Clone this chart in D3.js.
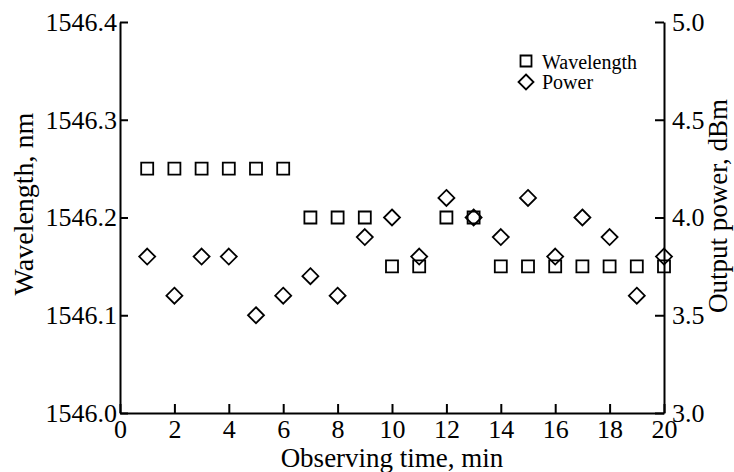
<!DOCTYPE html>
<html>
<head>
<meta charset="utf-8">
<script src="https://cdn.jsdelivr.net/npm/d3@7"></script>
<style>
  body { margin: 0; background: #fff; }
  svg text { font-family: "Liberation Serif", "Times New Roman", serif; fill: #000; }
  .axis path, .axis line { stroke: #000; stroke-width: 2; }
</style>
</head>
<body>
<svg id="chart" width="734" height="472"></svg>
<script>
// data
const minutes = [1, 2, 3, 4, 5, 6, 7, 8, 9, 10, 11, 12, 13, 14, 15, 16, 17, 18, 19, 20];
const wavelength = [1546.25, 1546.25, 1546.25, 1546.25, 1546.25, 1546.25, 1546.20, 1546.20, 1546.20, 1546.15,
                    1546.15, 1546.20, 1546.20, 1546.15, 1546.15, 1546.15, 1546.15, 1546.15, 1546.15, 1546.15];
const power = [3.8, 3.6, 3.8, 3.8, 3.5, 3.6, 3.7, 3.6, 3.9, 4.0,
               3.8, 4.1, 4.0, 3.9, 4.1, 3.8, 4.0, 3.9, 3.6, 3.8];
const xTicks = [0, 2, 4, 6, 8, 10, 12, 14, 16, 18, 20];
const leftTicks = [1546.0, 1546.1, 1546.2, 1546.3, 1546.4];
const rightTicks = [3.0, 3.5, 4.0, 4.5, 5.0];
const legendLabels = ["Wavelength", "Power"];

const svg = d3.select("#chart");
const plot = { left: 120, right: 664, top: 22, bottom: 413 };

const x = d3.scaleLinear().domain([0, 20]).range([plot.left, plot.right]);
const yL = d3.scaleLinear().domain([1546.0, 1546.4]).range([plot.bottom, plot.top]);
const yR = d3.scaleLinear().domain([3.0, 5.0]).range([plot.bottom, plot.top]);

// axes, ticks pointing inward
const xAxisG = svg.append("g").attr("class", "axis")
  .attr("transform", `translate(0,${plot.bottom})`)
  .call(d3.axisBottom(x).tickValues(xTicks).tickSize(-9).tickSizeOuter(0).tickFormat(d3.format("d")));
xAxisG.selectAll("text").attr("y", 0).attr("dy", "25px").style("font-size", "26px");

const yLG = svg.append("g").attr("class", "axis")
  .attr("transform", `translate(${plot.left},0)`)
  .call(d3.axisLeft(yL).tickValues(leftTicks).tickSize(-8).tickSizeOuter(0).tickPadding(3).tickFormat(d3.format(".1f")));
yLG.selectAll("text").style("font-size", "26px");

const yRG = svg.append("g").attr("class", "axis")
  .attr("transform", `translate(${plot.right},0)`)
  .call(d3.axisRight(yR).tickValues(rightTicks).tickSize(-9).tickSizeOuter(0).tickPadding(8).tickFormat(d3.format(".1f")));
yRG.selectAll("text").style("font-size", "26px");

svg.selectAll(".domain").attr("stroke-width", 2);

// axis titles
svg.append("text")
  .attr("x", (plot.left + plot.right) / 2).attr("y", 467)
  .attr("text-anchor", "middle").style("font-size", "27px")
  .text("Observing time, min");

svg.append("text")
  .attr("transform", "translate(33,204) rotate(-90)")
  .attr("text-anchor", "middle").style("font-size", "28px")
  .text("Wavelength, nm");

svg.append("text")
  .attr("transform", "translate(727,206) rotate(-90)")
  .attr("text-anchor", "middle").style("font-size", "27px")
  .text("Output power, dBm");

// markers
const square = d3.symbol().type(d3.symbolSquare).size(144);
const diamond = (s) => `M0,${-s}L${s},0L0,${s}L${-s},0Z`;

svg.append("g").selectAll("path")
  .data(minutes.map((m, i) => ({ m, v: wavelength[i] })))
  .join("path")
  .attr("d", square)
  .attr("transform", d => `translate(${x(d.m)},${yL(d.v)})`)
  .attr("fill", "none").attr("stroke", "#000").attr("stroke-width", 1.8);

svg.append("g").selectAll("path")
  .data(minutes.map((m, i) => ({ m, v: power[i] })))
  .join("path")
  .attr("d", diamond(8))
  .attr("transform", d => `translate(${x(d.m)},${yR(d.v)})`)
  .attr("fill", "none").attr("stroke", "#000").attr("stroke-width", 1.8);

// legend
const legend = svg.append("g").attr("transform", "translate(526,61)");
legend.append("path").attr("d", d3.symbol().type(d3.symbolSquare).size(121))
  .attr("fill", "none").attr("stroke", "#000").attr("stroke-width", 1.8);
legend.append("path").attr("d", diamond(7.5)).attr("transform", "translate(0,21)")
  .attr("fill", "none").attr("stroke", "#000").attr("stroke-width", 1.8);
legend.selectAll("text.lg").data(legendLabels).join("text")
  .attr("class", "lg")
  .attr("x", 16).attr("y", (d, i) => 8 + i * 20)
  .style("font-size", "20px")
  .text(d => d);
</script>
</body>
</html>
